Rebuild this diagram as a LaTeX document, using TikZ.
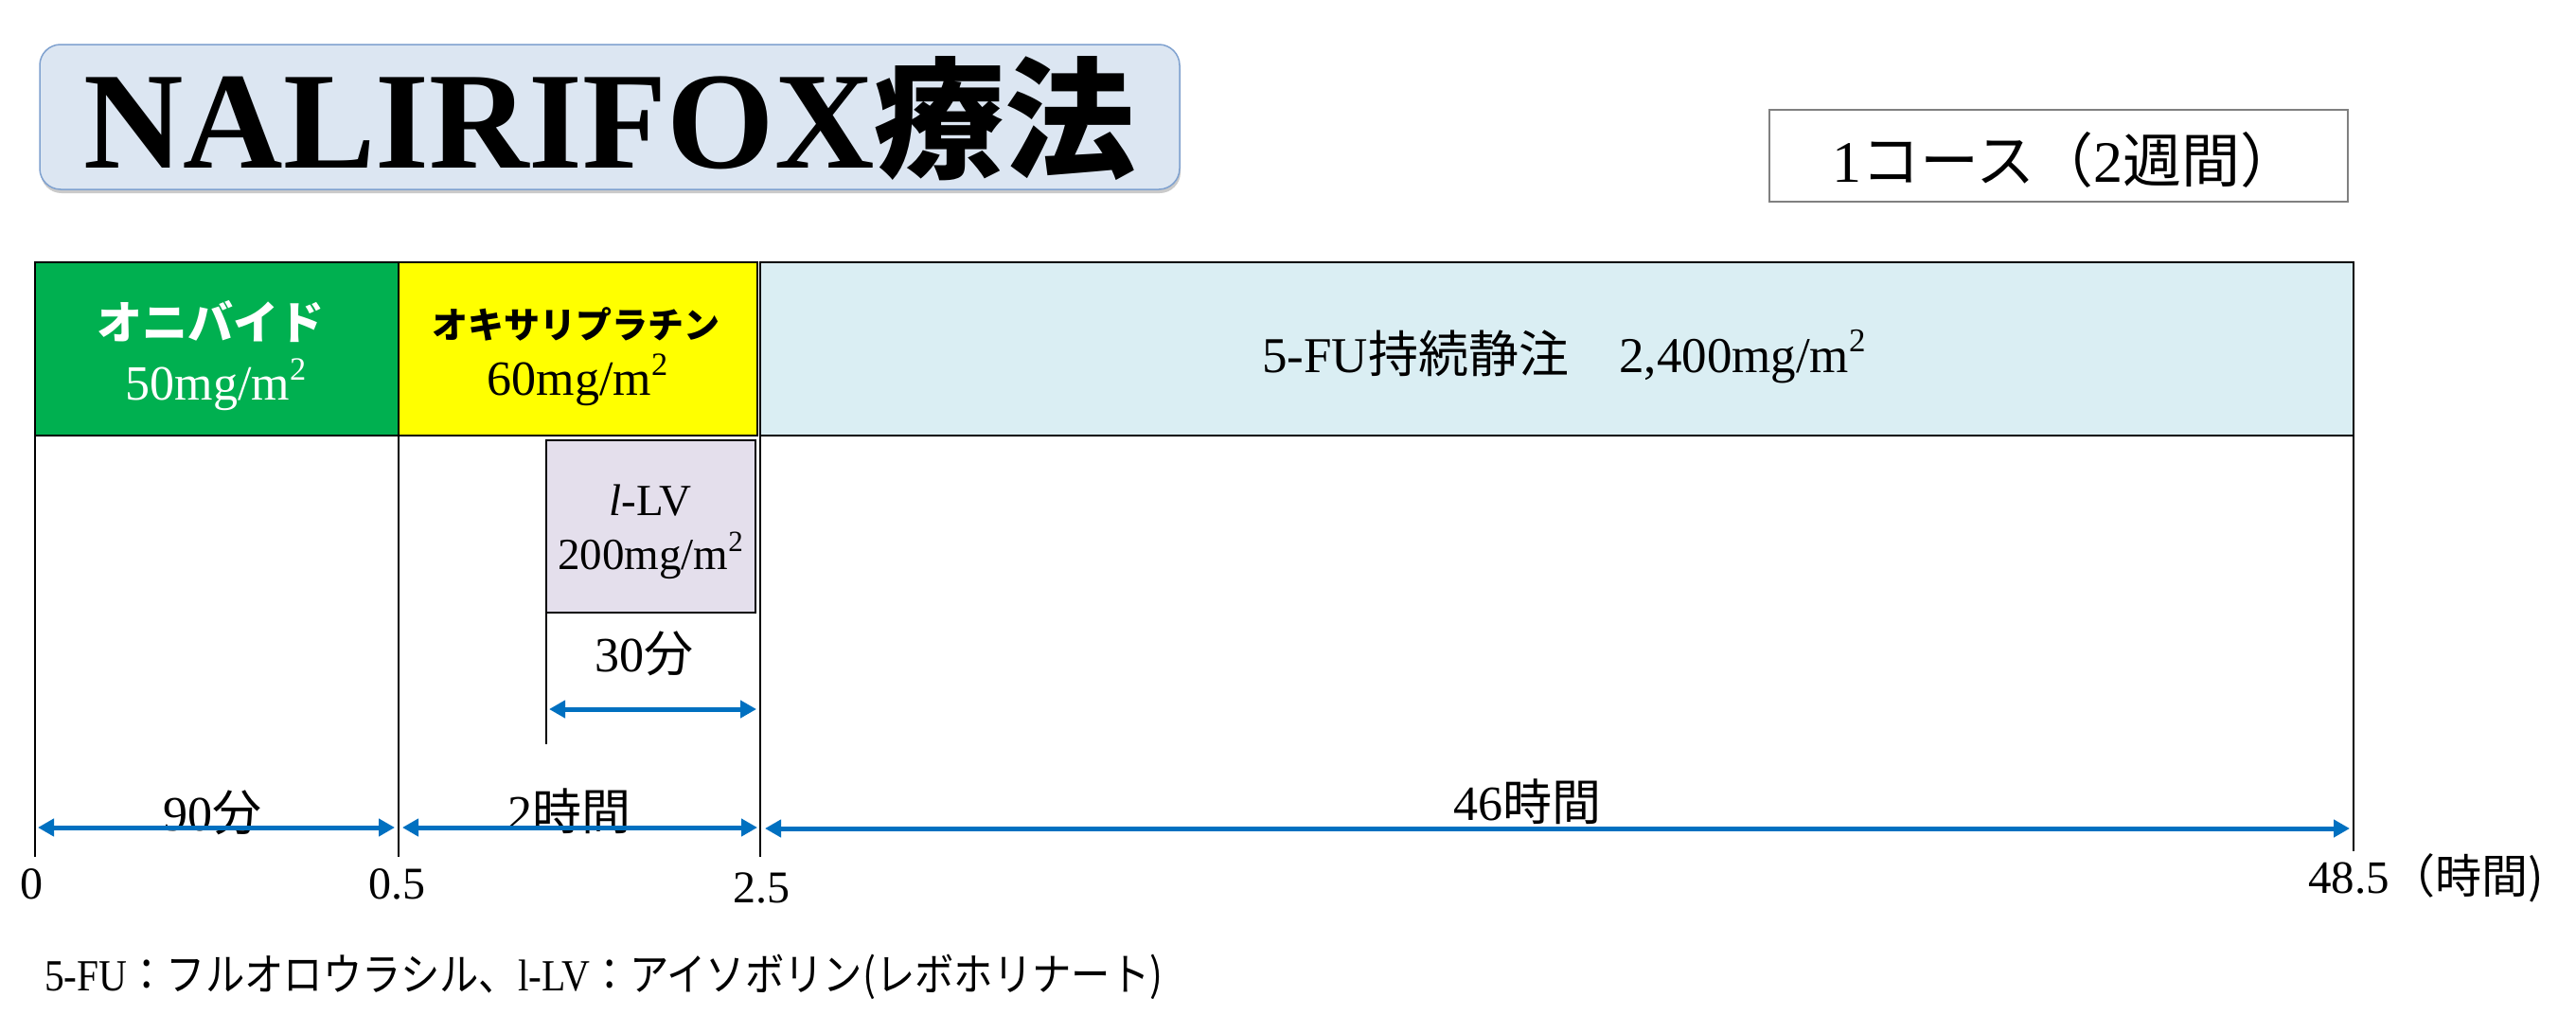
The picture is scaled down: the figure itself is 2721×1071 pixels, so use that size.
\documentclass[tikz,border=0pt]{standalone}
\usepackage{fontspec}
\usepackage{graphicx}
\setmainfont{Liberation Serif}
\newfontfamily\jp{Noto Sans CJK JP}
\usetikzlibrary{arrows.meta,shadows}
\newcommand\sqtwo{\raisebox{0.4em}{\scalebox{0.66}{2}}}
\definecolor{onigreen}{HTML}{00B050}
\definecolor{oxayellow}{HTML}{FFFF00}
\definecolor{fublue}{HTML}{DAEEF3}
\definecolor{llvlav}{HTML}{E4DFEC}
\definecolor{titlefill}{HTML}{DCE6F2}
\definecolor{titleline}{HTML}{7FA1CF}
\definecolor{arrowblue}{HTML}{0070C0}
\definecolor{coursegray}{HTML}{808080}
\begin{document}
\begin{tikzpicture}[x=1pt,y=-1pt,
  every node/.style={inner sep=0pt,outer sep=0pt},
  titlebox/.style={draw=titleline,line width=1.5pt,fill=titlefill,rounded corners=22pt,
    drop shadow={shadow xshift=1pt,shadow yshift=-4pt,opacity=0.35,fill=black!60}},
  coursebox/.style={draw=coursegray,line width=1.5pt,fill=white},
  phasebox/.style={draw=black,line width=2.5pt},
  vline/.style={draw=black,line width=1.5pt},
  durarrow/.style={draw=arrowblue,line width=5pt,
    {Triangle[length=17pt,width=18pt]}-{Triangle[length=17pt,width=18pt]}},
  lbl/.style={anchor=base}]
\useasboundingbox (0,0) rectangle (2721,1071);

% title
\node[titlebox,minimum width=1204pt,minimum height=153pt,anchor=north west] (title) at (42,47) {};
\node[lbl] (titletext) at (644,177) {\fontsize{146}{150}\selectfont\bfseries NALIRIFOX{\jp\fontsize{138}{150}\selectfont 療法}};

% course box
\node[coursebox,minimum width=611pt,minimum height=97pt,anchor=north west] (course) at (1869,116) {};
\node[lbl] (coursetext) at (2182,192) {\fontsize{62}{70}\selectfont 1{\jp コース（}2{\jp 週間）}};

% phase boxes
\node[phasebox,fill=onigreen,minimum width=384pt,minimum height=183pt,anchor=north west] (oni) at (37,277) {};
\node[phasebox,fill=oxayellow,minimum width=379pt,minimum height=183pt,anchor=north west] (oxa) at (421,277) {};
\node[phasebox,fill=fublue,minimum width=1683pt,minimum height=183pt,anchor=north west] (fu) at (803,277) {};
\node[draw=black,line width=2pt,fill=llvlav,minimum width=221pt,minimum height=182pt,anchor=north west] (llv) at (577,465) {};

% texts in boxes
\node[text=white] (onit) at (222,340) {\jp\bfseries\fontsize{48}{50}\selectfont オニバイド};
\node[lbl,text=white] (onid) at (228,422) {\fontsize{52}{56}\selectfont 50mg/m\sqtwo};
\node (oxat) at (608,342) {\jp\bfseries\fontsize{38}{40}\selectfont オキサリプラチン};
\node[lbl] (oxad) at (610,417) {\fontsize{52}{56}\selectfont 60mg/m\sqtwo};
\node[lbl] (fut) at (1652,393) {\fontsize{53}{56}\selectfont 5-FU{\jp 持続静注　}2,400mg/m\sqtwo};
\node[lbl] (llvt) at (687,544) {\fontsize{47}{50}\selectfont\textit{l}-LV};
\node[lbl] (llvd) at (687,601) {\fontsize{47}{50}\selectfont 200mg/m\sqtwo};

% vertical lines
\coordinate (b0) at (37,905);
\coordinate (b05) at (421,905);
\coordinate (b25) at (803,905);
\coordinate (b485) at (2486,899);
\coordinate (lvb) at (577,786);
\draw[vline] (oni.south west) -- (b0);
\draw[vline] (oxa.south west) -- (b05);
\draw[vline] (fu.south west) -- (b25);
\draw[vline] (fu.south east) -- (b485);
\draw[vline] (llv.south west) -- (lvb);

% duration labels
\node[lbl] (d90) at (224,877) {\fontsize{52}{56}\selectfont 90{\jp 分}};
\node[lbl] (d2h) at (601,876) {\fontsize{52}{56}\selectfont 2{\jp 時間}};
\node[lbl] (d46) at (1613,866) {\fontsize{52}{56}\selectfont 46{\jp 時間}};
\node[lbl] (d30) at (680,709) {\fontsize{52}{56}\selectfont 30{\jp 分}};

% arrows
\coordinate (a1l) at (40,874);
\coordinate (a1r) at (417,874);
\coordinate (a2l) at (425,874);
\coordinate (a2r) at (800,874);
\coordinate (a3l) at (808,875);
\coordinate (a3r) at (2482,875);
\coordinate (c1) at (580,749);
\coordinate (c2) at (799,749);
\draw[durarrow] (a1l) -- (a1r);
\draw[durarrow] (a2l) -- (a2r);
\draw[durarrow] (a3l) -- (a3r);
\draw[durarrow] (c1) -- (c2);

% tick labels
\node[lbl] (t0) at (33,949) {\fontsize{48}{52}\selectfont 0};
\node[lbl] (t05) at (419,949) {\fontsize{48}{52}\selectfont 0.5};
\node[lbl] (t25) at (804,953) {\fontsize{48}{52}\selectfont 2.5};
\node[anchor=base west] (t485) at (2438,943) {\fontsize{49}{52}\selectfont 48.5{\jp （時間)}};

% footnote
\node[anchor=base west,xscale=0.88,transform shape] (foot) at (47,1046) {\fontsize{47}{50}\selectfont 5-FU{\jp ：フルオロウラシル、}l-LV{\jp ：アイソボリン(レボホリナート)}};
\end{tikzpicture}
\end{document}
